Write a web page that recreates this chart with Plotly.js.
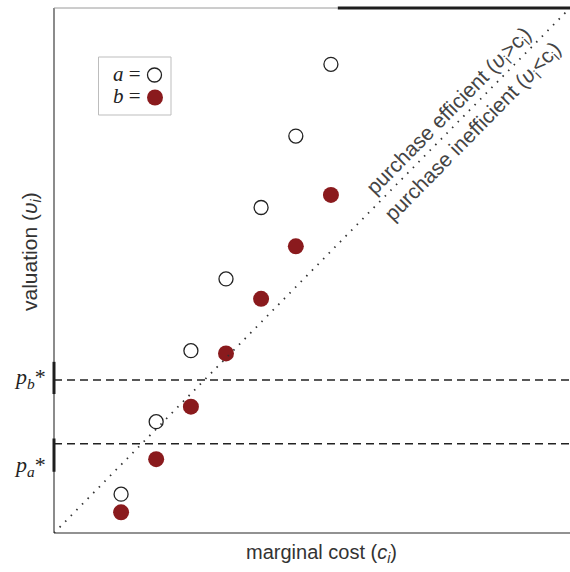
<!DOCTYPE html>
<html>
<head>
<meta charset="utf-8">
<script src="https://cdn.plot.ly/plotly-3.0.1.min.js"></script>
<style>
  html, body { margin: 0; padding: 0; background: #fff; }
  #chart { width: 570px; height: 572px; }
</style>
</head>
<body>
<div id="chart"></div>
<script>
// Marginal cost of each unit (shared by both buyers)
const marginalCost = [1.95, 2.97, 3.98, 5.00, 6.02, 7.03, 8.05];
// Valuations of buyer a (open circles) and buyer b (filled circles)
const valuationA = [1.11, 3.18, 5.21, 7.26, 9.30, 11.34, 13.39];
const valuationB = [0.59, 2.11, 3.61, 5.13, 6.69, 8.19, 9.66];
// Posted prices for each buyer
const priceNames = ['a', 'b'];
const priceValues = [2.55, 4.37];
// Axis extent (same units on both axes so v = c is the diagonal)
const axisMax = 15;

const SERIF = '"Liberation Serif", "DejaVu Serif", serif';
const SANS = '"Liberation Sans", Arial, sans-serif';
const RED = '#8a1a1d';

const ital = s => `<span style="font-family:${SERIF}"><i>${s}</i></span>`;

const traces = [
  {
    x: marginalCost, y: valuationA, type: 'scatter', mode: 'markers',
    marker: { symbol: 'circle', size: 14, color: '#fff', line: { color: '#222', width: 1.3 } },
    hoverinfo: 'skip', showlegend: false
  },
  {
    x: marginalCost, y: valuationB, type: 'scatter', mode: 'markers',
    marker: { symbol: 'circle', size: 16, color: RED, line: { width: 0 } },
    hoverinfo: 'skip', showlegend: false
  }
];

// plot-area frame
const shapes = [
  { type: 'line', xref: 'paper', yref: 'paper', x0: 0, x1: 0, y0: 0, y1: 1, line: { color: '#6e6e6e', width: 1.6 } },
  { type: 'line', xref: 'paper', yref: 'paper', x0: 0, x1: 1, y0: 0, y1: 0, line: { color: '#6e6e6e', width: 1.6 } },
  { type: 'line', xref: 'paper', yref: 'paper', x0: 0, x1: 0.55, y0: 1, y1: 1, line: { color: '#9a9a9a', width: 1 } },
  { type: 'line', xref: 'paper', yref: 'paper', x0: 0.55, x1: 1, y0: 1, y1: 1, line: { color: '#1e1e1e', width: 3 } },
  // v = c boundary
  { type: 'line', xref: 'x', yref: 'y', x0: 0, y0: 0, x1: axisMax, y1: axisMax,
    line: { color: '#333', width: 1.8, dash: '1.5px,6.5px' } }
];

const annotations = [];

// price lines, their labels and the bold marks on the value axis
const markRanges = { a: [-0.8, 0.15], b: [-0.4, 0.52] };
priceNames.forEach((name, i) => {
  const p = priceValues[i];
  shapes.push({ type: 'line', xref: 'paper', yref: 'y', x0: 0, x1: 1, y0: p, y1: p,
    line: { color: '#222', width: 1.5, dash: '8px,5px' } });
  const r = markRanges[name];
  shapes.push({ type: 'line', xref: 'paper', yref: 'y', x0: 0, x1: 0, y0: p + r[0], y1: p + r[1],
    line: { color: '#1e1e1e', width: 3 } });
  annotations.push({
    xref: 'paper', yref: 'y', x: -0.012, y: name === 'a' ? p - 0.64 : p + 0.05,
    xanchor: 'right', yanchor: 'middle', showarrow: false,
    text: `<i>p<sub>${name}</sub></i>*`,
    font: { family: SERIF, size: 22, color: '#222' }
  });
});

// legend box
const px = v => (v - 54) / 516;
const py = v => (533 - v) / 525;
shapes.push({ type: 'rect', xref: 'paper', yref: 'paper',
  x0: px(98.5), x1: px(171), y0: py(115), y1: py(57),
  line: { color: '#bdbdbd', width: 1 }, fillcolor: '#fff', layer: 'above' });
shapes.push({ type: 'circle', xref: 'paper', yref: 'paper', xsizemode: 'pixel', ysizemode: 'pixel',
  xanchor: px(154.5), yanchor: py(75), x0: -7, x1: 7, y0: -7, y1: 7,
  line: { color: '#222', width: 1.3 }, fillcolor: '#fff', layer: 'above' });
shapes.push({ type: 'circle', xref: 'paper', yref: 'paper', xsizemode: 'pixel', ysizemode: 'pixel',
  xanchor: px(155), yanchor: py(97.5), x0: -8, x1: 8, y0: -8, y1: 8,
  line: { width: 0 }, fillcolor: RED, layer: 'above' });
annotations.push(
  { xref: 'paper', yref: 'paper', x: px(143), y: py(74), xanchor: 'right', yanchor: 'middle',
    showarrow: false, text: '<i>a</i> =', font: { family: SERIF, size: 21, color: '#222' } },
  { xref: 'paper', yref: 'paper', x: px(143), y: py(96), xanchor: 'right', yanchor: 'middle',
    showarrow: false, text: '<i>b</i> =', font: { family: SERIF, size: 21, color: '#222' } }
);

// region labels along the diagonal
annotations.push(
  { xref: 'x', yref: 'y', x: 11.51, y: 12.05, textangle: -45.5, showarrow: false,
    xanchor: 'center', yanchor: 'middle',
    text: `purchase efficient (${ital('υ')}<sub>i</sub>&gt;c<sub>i</sub>)`,
    font: { family: SANS, size: 21, color: '#444' } },
  { xref: 'x', yref: 'y', x: 12.2, y: 11.45, textangle: -45.5, showarrow: false,
    xanchor: 'center', yanchor: 'middle',
    text: `purchase inefficient (${ital('υ')}<sub>i</sub>&lt;c<sub>i</sub>)`,
    font: { family: SANS, size: 21, color: '#444' } }
);

// axis titles
annotations.push(
  { xref: 'paper', yref: 'paper', x: px(321), y: py(553), xanchor: 'center', yanchor: 'middle',
    showarrow: false, text: `marginal cost (${ital('c<sub>i</sub>')})`,
    font: { family: SANS, size: 20, color: '#333' } },
  { xref: 'paper', yref: 'paper', x: px(31), y: py(252), xanchor: 'center', yanchor: 'middle',
    textangle: -90, showarrow: false, text: `valuation (${ital('υ<sub>i</sub>')})`,
    font: { family: SANS, size: 21, color: '#333' } }
);

const hidden = { showgrid: false, zeroline: false, showline: false, showticklabels: false,
  ticks: '', range: [0, axisMax], fixedrange: true };

const layout = {
  width: 570, height: 572,
  margin: { l: 54, r: 0, t: 8, b: 39, pad: 0 },
  paper_bgcolor: '#fff', plot_bgcolor: '#fff',
  showlegend: false,
  xaxis: Object.assign({}, hidden),
  yaxis: Object.assign({}, hidden),
  shapes: shapes,
  annotations: annotations
};

Plotly.newPlot('chart', traces, layout, { displayModeBar: false, staticPlot: true });
</script>
</body>
</html>
